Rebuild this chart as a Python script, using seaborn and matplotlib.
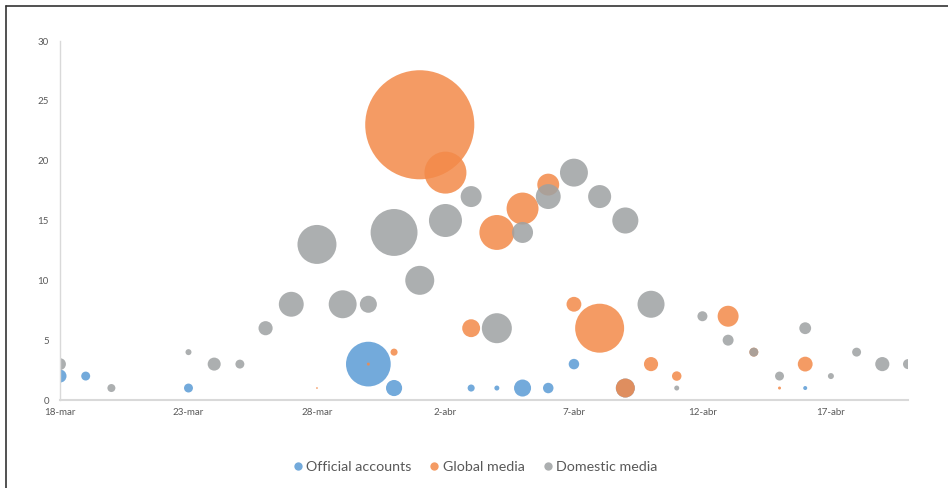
import numpy as np
import pandas as pd
import matplotlib
matplotlib.use("Agg")
import matplotlib.pyplot as plt
import seaborn as sns
from matplotlib.lines import Line2D

# ---------------- data ----------------
series_names = ["Official accounts", "Global media", "Domestic media"]
series_colors = ["#5B9BD5", "#F38A49", "#9EA1A2"]

official_dates = ["2020-03-18", "2020-03-19", "2020-03-23", "2020-03-30", "2020-03-31",
                  "2020-04-03", "2020-04-04", "2020-04-05", "2020-04-06", "2020-04-07",
                  "2020-04-09", "2020-04-16"]
official_values = [2, 2, 1, 3, 1, 1, 1, 1, 1, 3, 1, 1]
official_sizes = [1.7, 0.8, 0.8, 20, 2.6, 0.5, 0.25, 2.9, 1.1, 1.1, 3.6, 0.16]

global_dates = ["2020-03-28", "2020-03-30", "2020-03-31", "2020-04-01", "2020-04-02",
                "2020-04-03", "2020-04-04", "2020-04-05", "2020-04-06", "2020-04-07",
                "2020-04-08", "2020-04-09", "2020-04-10", "2020-04-11", "2020-04-13",
                "2020-04-14", "2020-04-15", "2020-04-16"]
global_values = [1, 3, 4, 23, 19, 6, 14, 16, 18, 8, 6, 1, 3, 2, 7, 4, 1, 3]
global_sizes = [0.03, 0.09, 0.5, 119, 17.6, 3.2, 12.2, 10.2, 4.8, 2.2, 24, 3.6,
                2.0, 0.9, 4.4, 0.8, 0.09, 2.2]

domestic_dates = ["2020-03-18", "2020-03-20", "2020-03-23", "2020-03-24", "2020-03-25",
                  "2020-03-26", "2020-03-27", "2020-03-28", "2020-03-29", "2020-03-30",
                  "2020-03-31", "2020-04-01", "2020-04-02", "2020-04-03", "2020-04-04",
                  "2020-04-05", "2020-04-06", "2020-04-07", "2020-04-08", "2020-04-09",
                  "2020-04-10", "2020-04-11", "2020-04-12", "2020-04-13", "2020-04-14",
                  "2020-04-15", "2020-04-16", "2020-04-17", "2020-04-18", "2020-04-19",
                  "2020-04-20"]
domestic_values = [3, 1, 4, 3, 3, 6, 8, 13, 8, 8, 14, 10, 15, 17, 6, 14, 17, 19, 17, 15,
                   8, 1, 7, 5, 4, 2, 6, 2, 4, 3, 3]
domestic_sizes = [1.4, 0.64, 0.36, 1.7, 0.8, 2.0, 6.2, 15.2, 7.8, 2.9, 22, 8.4, 10.9,
                  4.4, 9.0, 4.4, 6.2, 7.8, 5.3, 6.8, 7.3, 0.25, 1.0, 1.2, 0.8, 0.8, 1.4,
                  0.36, 0.8, 2.0, 1.0]

tick_dates = ["2020-03-18", "2020-03-23", "2020-03-28", "2020-04-02", "2020-04-07",
              "2020-04-12", "2020-04-17"]
tick_labels = ["18-mar", "23-mar", "28-mar", "2-abr", "7-abr", "12-abr", "17-abr"]
y_ticks = [0, 5, 10, 15, 20, 25, 30]

# ---------------- table ----------------
frames = []
for name, d, v, s in [(series_names[0], official_dates, official_values, official_sizes),
                      (series_names[1], global_dates, global_values, global_sizes),
                      (series_names[2], domestic_dates, domestic_values, domestic_sizes)]:
    frames.append(pd.DataFrame({"date": pd.to_datetime(d), "value": v,
                                "size": s, "series": name}))
df = pd.concat(frames, ignore_index=True)

# ---------------- plot ----------------
sns.set_style("white")
plt.rcParams["font.family"] = ["Lato", "DejaVu Sans"]

fig = plt.figure(figsize=(9.48, 4.88), dpi=100)
ax = fig.add_axes([60 / 948, 88 / 488, 848 / 948, 359 / 488])

size_max_units = 121
smax = 51.84 * size_max_units
sns.scatterplot(data=df, x="date", y="value", hue="series", size="size",
                palette=dict(zip(series_names, series_colors)),
                sizes=(0, smax), size_norm=(0, size_max_units),
                alpha=0.85, linewidth=0, legend=False, ax=ax)

ax.set_xlim(pd.Timestamp("2020-03-18"), pd.Timestamp("2020-04-20"))
ax.set_ylim(0, 30)
ax.set_xticks(pd.to_datetime(tick_dates))
ax.set_xticklabels(tick_labels)
ax.set_yticks(y_ticks)
ax.set_xlabel("")
ax.set_ylabel("")
ax.tick_params(axis="both", length=0, labelsize=7, colors="#595959")
ax.tick_params(axis="y", pad=8)
ax.tick_params(axis="x", pad=6)
for side in ["top", "right"]:
    ax.spines[side].set_visible(False)
ax.spines["left"].set_color("#D9D9D9")
ax.spines["left"].set_linewidth(1.0)
ax.spines["bottom"].set_color("#D9D9D9")
ax.spines["bottom"].set_linewidth(1.5)

handles = [Line2D([0], [0], marker="o", linestyle="", markersize=6,
                  markerfacecolor=c, markeredgewidth=0, alpha=0.85) for c in series_colors]
leg = fig.legend(handles, series_names, loc="center", bbox_to_anchor=(0.5, 21 / 488),
                 ncol=3, frameon=False, fontsize=10.3, handletextpad=0.1,
                 columnspacing=1.1, handlelength=1.0)
for t in leg.get_texts():
    t.set_color("#595959")

# image frame (left and top edges)
fig.add_artist(Line2D([5.5 / 948, 5.5 / 948], [0, 1 - 5.5 / 488], transform=fig.transFigure,
                      color="#333333", linewidth=1.2))
fig.add_artist(Line2D([5.5 / 948, 1], [1 - 5.5 / 488, 1 - 5.5 / 488], transform=fig.transFigure,
                      color="#333333", linewidth=1.2))

fig.savefig("out.png", dpi=100)
